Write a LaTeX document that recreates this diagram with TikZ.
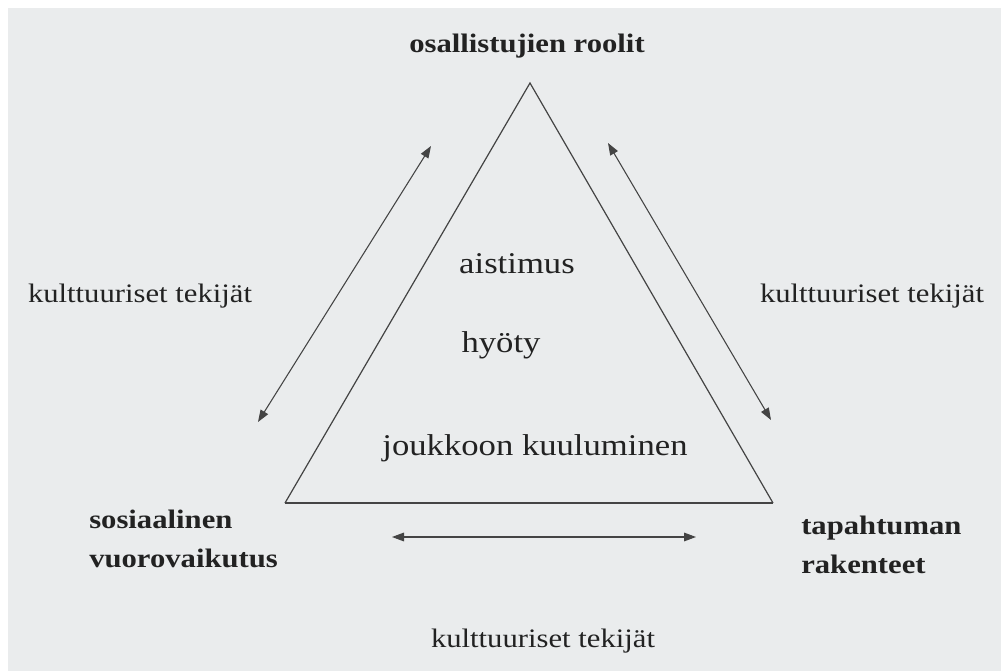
\documentclass[tikz,border=0pt]{standalone}
\usepackage{fontspec}
\setmainfont{Liberation Serif}[FakeStretch=1.15]
\usetikzlibrary{arrows.meta}
\definecolor{bg}{HTML}{EAECED}
\definecolor{ink}{HTML}{222222}
\definecolor{ln}{HTML}{444444}
\tikzset{
  outer/.style={text=ink, font=\fontsize{20}{25}\selectfont, inner sep=0pt},
  inner/.style={text=ink, font=\fontsize{22.6}{28}\selectfont, inner sep=0pt},
  corner/.style={text=ink, font=\fontsize{20}{29}\selectfont\bfseries, inner sep=0pt, align=left},
  edge/.style={draw=ln, line width=0.9pt},
  dbl/.style={draw=ln, line width=0.8pt, {Triangle[length=9pt,width=6.5pt]}-{Triangle[length=9pt,width=6.5pt]}}
}
\begin{document}
\begin{tikzpicture}[x=0.75pt,y=-0.75pt]
\useasboundingbox (0,0) rectangle (1001,671);
\fill[white] (0,0) rectangle (1001,671);
\fill[bg] (8,8) rectangle (1001,671);
% triangle
\coordinate (apex) at (530,83);
\coordinate (bl) at (285,503);
\coordinate (br) at (773,503);
\draw[edge] (bl) -- (apex) -- (br);
\draw[draw=ln, line width=1.6pt] (bl) -- (br);
% arrows
\coordinate (la1) at (258,422);
\coordinate (la2) at (431,146);
\coordinate (ra1) at (608,143);
\coordinate (ra2) at (771,420);
\coordinate (ba1) at (392,537);
\coordinate (ba2) at (696,537);
\draw[dbl] (la1) -- (la2);
\draw[dbl] (ra1) -- (ra2);
\draw[dbl] (ba1) -- (ba2);
% labels
\node[corner, anchor=base] (top) at (527,52) {osallistujien roolit};
\node[inner, anchor=base] (ais) at (517,273) {aistimus};
\node[inner, anchor=base] (hyo) at (501,352) {hyöty};
\node[inner, anchor=base] (jou) at (535,455) {joukkoon kuuluminen};
\node[outer, anchor=base] (kl) at (140,302) {kulttuuriset tekijät};
\node[outer, anchor=base] (kr) at (872,302) {kulttuuriset tekijät};
\node[outer, anchor=base] (kb) at (543,647) {kulttuuriset tekijät};
\node[corner, anchor=base west] (sos) at (89,567) {sosiaalinen\\vuorovaikutus};
\node[corner, anchor=base west] (tap) at (801,573) {tapahtuman\\rakenteet};
\end{tikzpicture}
\end{document}
